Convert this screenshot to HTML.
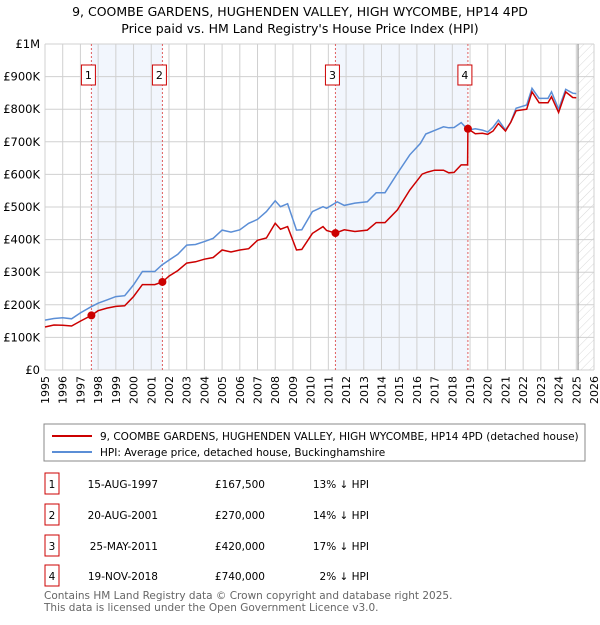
<!DOCTYPE html>
<html><head><meta charset="utf-8"><style>
body{margin:0;background:#fff;font-family:"Liberation Sans","DejaVu Sans",sans-serif}
svg text{font-family:"DejaVu Sans","Liberation Sans",sans-serif}
</style></head><body>
<svg id="c" width="600" height="620" viewBox="0 0 600 620">
<text x="300" y="16" text-anchor="middle" font-size="12.5" fill="#000">9, COOMBE GARDENS, HUGHENDEN VALLEY, HIGH WYCOMBE, HP14 4PD</text>
<text x="300" y="33" text-anchor="middle" font-size="12.5" fill="#000">Price paid vs. HM Land Registry's House Price Index (HPI)</text>
<defs><pattern id="hatch" width="6" height="6" patternUnits="userSpaceOnUse" patternTransform="rotate(45)"><line x1="0" y1="0" x2="0" y2="6" stroke="#d0d0d0" stroke-width="0.8"/></pattern></defs>
<g id="plot"></g>
<rect x="44" y="424" width="541" height="37" fill="none" stroke="#888"/>
<line x1="52" y1="436" x2="92" y2="436" stroke="#cc0000" stroke-width="2"/>
<text x="100" y="440" font-size="10.5">9, COOMBE GARDENS, HUGHENDEN VALLEY, HIGH WYCOMBE, HP14 4PD (detached house)</text>
<line x1="52" y1="452" x2="92" y2="452" stroke="#5b8ed6" stroke-width="2"/>
<text x="100" y="456" font-size="10.5">HPI: Average price, detached house, Buckinghamshire</text>
<g id="table" font-size="10.5"></g>
<text x="44" y="599" font-size="10.5" fill="#666">Contains HM Land Registry data © Crown copyright and database right 2025.</text>
<text x="44" y="611" font-size="10.5" fill="#666">This data is licensed under the Open Government Licence v3.0.</text>
</svg>
<script>
const hpiYears=[1995,1995.5,1996,1996.5,1997,1997.6,1998,1998.5,1999,1999.5,2000,2000.5,2001.2,2001.6,2002,2002.5,2003,2003.5,2004,2004.5,2005,2005.5,2006,2006.5,2007,2007.5,2008,2008.3,2008.7,2009.2,2009.5,2010.1,2010.7,2010.9,2011.5,2011.9,2012.5,2013.2,2013.7,2014.2,2014.9,2015.6,2016.2,2016.5,2017,2017.5,2017.8,2018.1,2018.5,2018.9,2019.3,2019.7,2020,2020.3,2020.6,2021,2021.3,2021.6,2022.2,2022.5,2022.9,2023.4,2023.6,2024,2024.4,2024.8,2025.0];
const hpiVals=[153,158,160,157,175,194,205,215,225,228,261,302,302,322,337,355,383,385,394,404,429,423,430,450,462,486,519,501,510,429,430,486,501,496,516,505,512,516,544,544,603,660,695,724,735,746,743,744,759,736,740,736,730,745,767,736,760,803,813,864,833,833,853,800,861,849,848];
const redYears=[1995,1995.5,1996,1996.5,1997,1997.62,1998,1998.5,1999,1999.5,2000,2000.5,2001.2,2001.63,2002,2002.5,2003,2003.5,2004,2004.5,2005,2005.5,2006,2006.5,2007,2007.5,2008,2008.3,2008.7,2009.2,2009.5,2010.1,2010.7,2010.9,2011.4,2011.9,2012.5,2013.2,2013.7,2014.2,2014.9,2015.6,2016.3,2016.6,2017,2017.5,2017.8,2018.1,2018.5,2018.86,2018.88,2019.3,2019.7,2020,2020.3,2020.6,2021,2021.3,2021.6,2022.2,2022.5,2022.9,2023.4,2023.6,2024,2024.4,2024.8,2025.0];
const redVals=[132,138,137,135,150,167.5,182,190,195,197,225,262,262,270,288,305,328,332,340,345,368,362,368,372,398,405,450,432,440,368,370,419,440,428,420,430,425,429,452,452,491,552,601,607,613,613,605,606,629,629,740,725,726,723,733,756,733,760,795,800,853,820,820,838,790,853,836,835];
const sales=[{n:"1",y:1997.62,v:167.5,d:"15-AUG-1997",p:"£167,500",h:"13% ↓ HPI"},{n:"2",y:2001.63,v:270,d:"20-AUG-2001",p:"£270,000",h:"14% ↓ HPI"},{n:"3",y:2011.4,v:420,d:"25-MAY-2011",p:"£420,000",h:"17% ↓ HPI"},{n:"4",y:2018.88,v:740,d:"19-NOV-2018",p:"£740,000",h:"2% ↓ HPI"}];
const yTicks=[0,100,200,300,400,500,600,700,800,900,1000];
const yLabels=["£0","£100K","£200K","£300K","£400K","£500K","£600K","£700K","£800K","£900K","£1M"];
const NS="http://www.w3.org/2000/svg";
const X0=45,X1=594,Y0=370,Y1=44,T0=1995,T1=2026;
const xs=t=>X0+(t-T0)/(T1-T0)*(X1-X0);
const ys=v=>Y0-v/1000*(Y0-Y1);
const g=document.getElementById('plot');
function mk(tag,a,p){const e=document.createElementNS(NS,tag);for(const k in a)e.setAttribute(k,a[k]);(p||g).appendChild(e);return e;}
for(let i=0;i<4;i+=2){const r=mk('rect',{x:xs(sales[i].y),y:Y1,width:xs(sales[i+1].y)-xs(sales[i].y),height:Y0-Y1,fill:'#f2f6fd'});

}
const hz=mk('rect',{x:xs(2025.1),y:Y1,width:X1-xs(2025.1),height:Y0-Y1,fill:'url(#hatch)'});


for(let t=T0;t<=T1;t++){const l=mk('line',{x1:xs(t),x2:xs(t),y1:Y1,y2:Y0,stroke:'#d0d0d0','stroke-width':1});


const tx=mk('text',{x:0,y:0,'font-size':11,'text-anchor':'end',transform:`translate(${xs(t)+4},${Y0+6}) rotate(-90)`});tx.textContent=t;

}
yTicks.forEach((v,i)=>{const l=mk('line',{x1:X0,x2:X1,y1:ys(v),y2:ys(v),stroke:'#d0d0d0','stroke-width':1});


const tx=mk('text',{x:40,y:ys(v)+4,'font-size':11.5,'text-anchor':'end'});tx.textContent=yLabels[i];

});
const nl=mk('line',{x1:xs(2025.1),x2:xs(2025.1),y1:Y1,y2:Y0,stroke:'#999','stroke-width':1.2});


sales.forEach(s=>{const l=mk('line',{x1:xs(s.y),x2:xs(s.y),y1:Y1,y2:Y0,stroke:'#e06060','stroke-width':1,'stroke-dasharray':'2,2'});


const b=mk('rect',{x:xs(s.y)-10,y:65,width:14,height:20,fill:'#fff',stroke:'#cc0000'});


const tx=mk('text',{x:xs(s.y)-3,y:79,'font-size':11,'text-anchor':'middle'});tx.textContent=s.n;

});
function path(xa,va,col,name){const d=xa.map((t,i)=>(i?'L':'M')+xs(t).toFixed(1)+','+ys(va[i]).toFixed(1)).join('');
const p=mk('path',{d:d,fill:'none',stroke:col,'stroke-width':1.5});

}
path(hpiYears,hpiVals,'#5b8ed6','hpi-line');
path(redYears,redVals,'#cc0000','price-paid-line');
sales.forEach(s=>{const c=mk('circle',{cx:xs(s.y),cy:ys(s.v),r:4,fill:'#cc0000'});

});
const tb=document.getElementById('table');
const rowY=[484,515,546,576];
sales.forEach((s,i)=>{const y=rowY[i];
const b=mk('rect',{x:45,y:y-11,width:14,height:21,fill:'#fff',stroke:'#cc0000'},tb);


const cols=[[52,s.n,'middle'],[158,s.d,'end'],[265,s.p,'end'],[369,s.h,'end']];
cols.forEach(c=>{const t=mk('text',{x:c[0],y:y+4,'text-anchor':c[2]},tb);t.textContent=c[1];

});});
</script>
</body></html>
